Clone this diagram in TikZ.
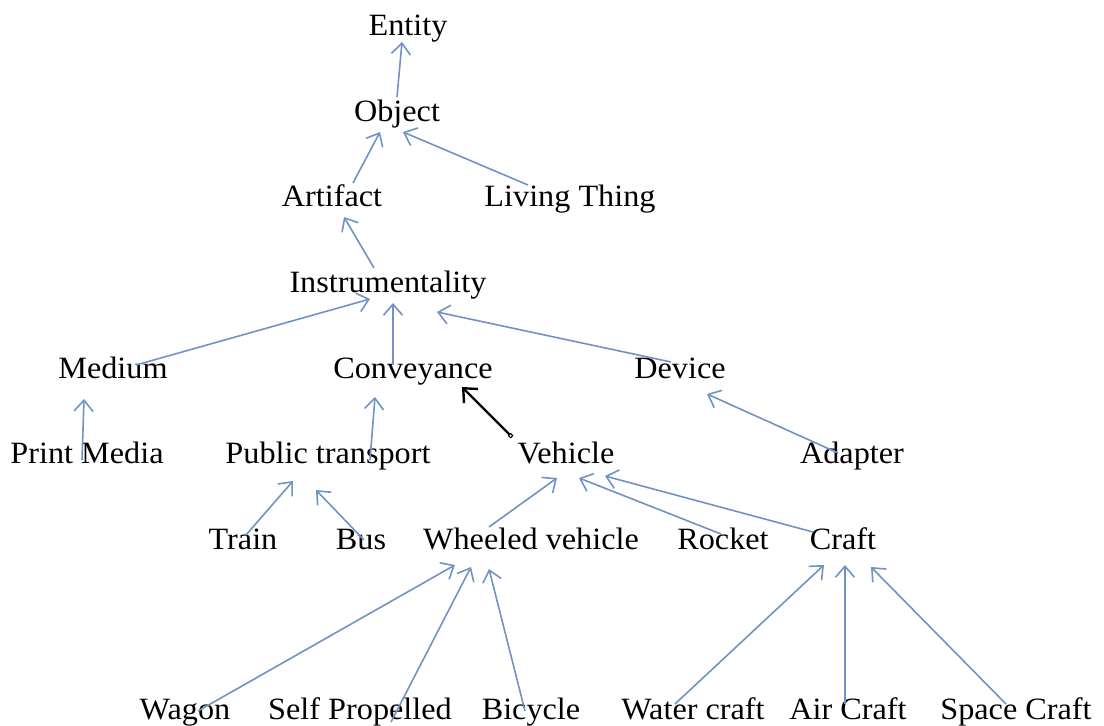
\documentclass[tikz,border=0pt]{standalone}
\usepackage{fontspec}
\setmainfont[FakeStretch=1.04]{Liberation Serif}
\usetikzlibrary{arrows.meta}
\definecolor{linkblue}{RGB}{112,146,196}

\begin{document}
\begin{tikzpicture}[
  x=1pt, y=-1pt,
  every node/.style={
    inner sep=0pt,
    anchor=base,
    font=\fontsize{31}{37}\selectfont
  },
  link/.style={
    draw=linkblue,
    line width=1.6pt,
    -{Straight Barb[length=11pt,width=19pt,line width=1.6pt]}
  },
  hand/.style={
    draw=black,
    line width=2.4pt,
    {Square[open,length=4pt,width=4pt,line width=1pt]}-{Straight Barb[length=11pt,width=20pt,line width=2.4pt]}
  }
]
\useasboundingbox (0,0) rectangle (1104,726);

\node (entity) at (408,35) {Entity};
\node (object) at (397,121) {Object};
\node (artifact) at (332,206) {Artifact};
\node (living) at (570,206) {Living Thing};
\node (instr) at (388,292) {Instrumentality};
\node (medium) at (113,378) {Medium};
\node (convey) at (413,378) {Conveyance};
\node (device) at (680,378) {Device};
\node (print) at (87,463) {Print Media};
\node (public) at (328,463) {Public transport};
\node (vehicle) at (566,463) {Vehicle};
\node (adapter) at (852,463) {Adapter};
\node (train) at (243,549) {Train};
\node (bus) at (361,549) {Bus};
\node (wheeled) at (531,549) {Wheeled vehicle};
\node (rocket) at (723,549) {Rocket};
\node (craft) at (843,549) {Craft};
\node (wagon) at (185,719) {Wagon};
\node (selfprop) at (360,719) {Self Propelled};
\node (bicycle) at (531,719) {Bicycle};
\node (water) at (693,719) {Water craft};
\node (air) at (848,719) {Air Craft};
\node (space) at (1016,719) {Space Craft};

\draw[link] ([shift={(0,-24)}]object.base) -- ([shift={(-6,7)}]entity.base);
\draw[link] ([shift={(21,-23)}]artifact.base) -- ([shift={(-17,11)}]object.base);
\draw[link] ([shift={(-42,-21)}]living.base) -- ([shift={(6,11)}]object.base);
\draw[link] ([shift={(-14,-24)}]instr.base) -- ([shift={(12,11)}]artifact.base);
\draw[link] ([shift={(23,-13)}]medium.base) -- ([shift={(-18,7)}]instr.base);
\draw[link] ([shift={(-20,-13)}]convey.base) -- ([shift={(5,11)}]instr.base);
\draw[link] ([shift={(-9,-16)}]device.base) -- ([shift={(49,20)}]instr.base);
\draw[link] ([shift={(-5,-3)}]print.base) -- ([shift={(-29,21)}]medium.base);
\draw[link] ([shift={(42,-3)}]public.base) -- ([shift={(-38,19)}]convey.base);
\draw[hand] ([shift={(-54,-26)}]vehicle.base) -- ([shift={(49,9)}]convey.base);
\draw[link] ([shift={(-14,-10)}]adapter.base) -- ([shift={(27,16)}]device.base);
\draw[link] ([shift={(3,-14)}]train.base) -- ([shift={(-35,18)}]public.base);
\draw[link] ([shift={(3,-9)}]bus.base) -- ([shift={(-12,27)}]public.base);
\draw[link] ([shift={(-42,-22)}]wheeled.base) -- ([shift={(-9,15)}]vehicle.base);
\draw[link] ([shift={(-2,-15)}]rocket.base) -- ([shift={(13,15)}]vehicle.base);
\draw[link] ([shift={(-30,-17)}]craft.base) -- ([shift={(39,13)}]vehicle.base);
\draw[link] ([shift={(13,-8)}]wagon.base) -- ([shift={(-76,16)}]wheeled.base);
\draw[link] ([shift={(31,3)}]selfprop.base) -- ([shift={(-60,18)}]wheeled.base);
\draw[link] ([shift={(-6,-8)}]bicycle.base) -- ([shift={(-42,20)}]wheeled.base);
\draw[link] ([shift={(-18,-15)}]water.base) -- ([shift={(-19,16)}]craft.base);
\draw[link] ([shift={(-3,-15)}]air.base) -- ([shift={(2,16)}]craft.base);
\draw[link] ([shift={(-10,-15)}]space.base) -- ([shift={(28,18)}]craft.base);
\end{tikzpicture}
\end{document}
